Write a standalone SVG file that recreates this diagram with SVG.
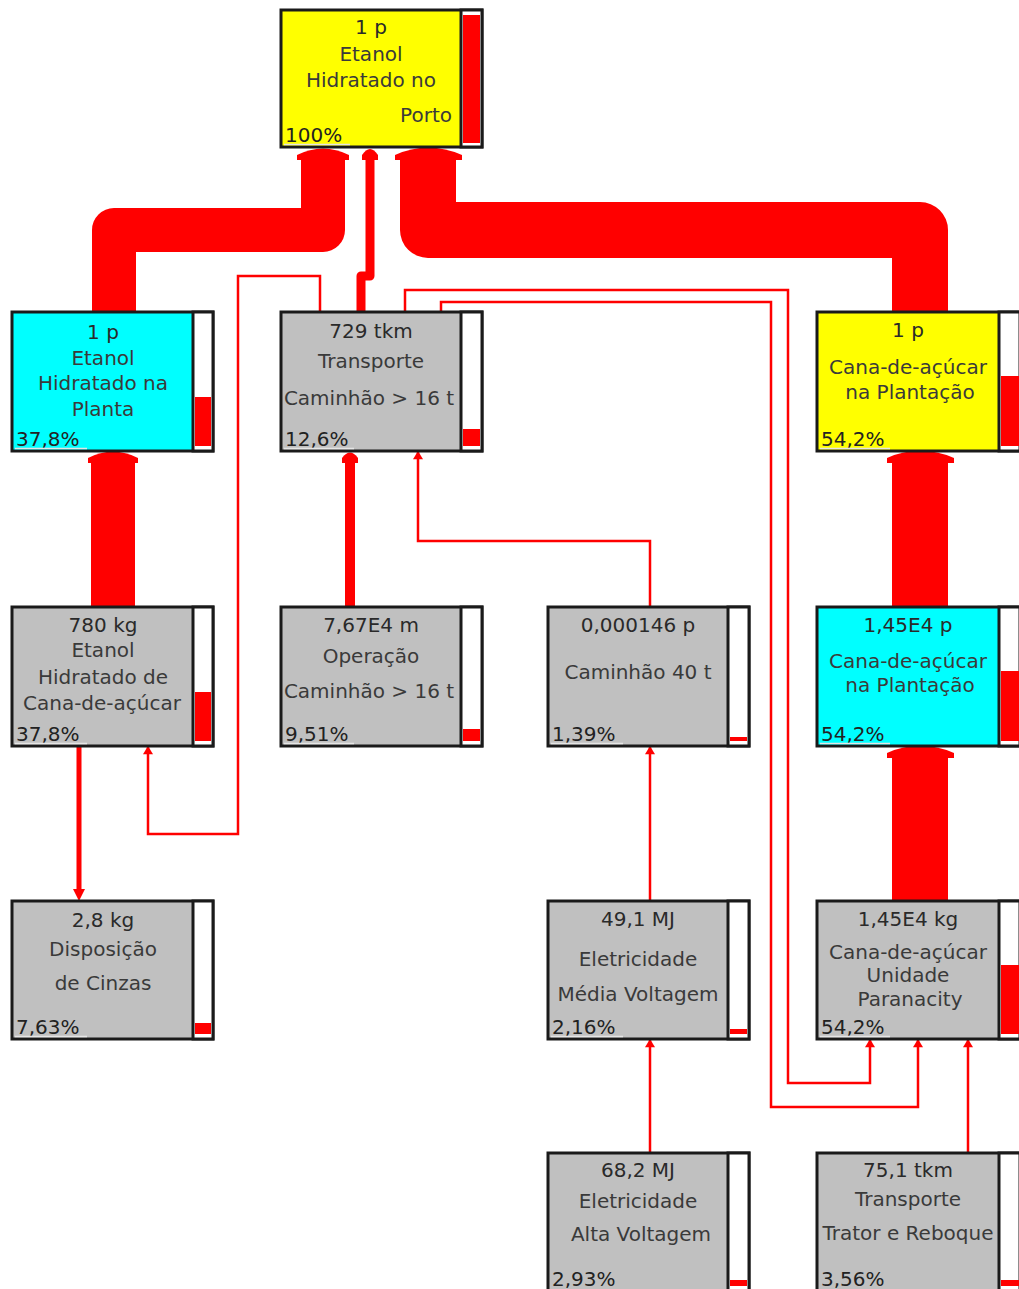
<svg xmlns="http://www.w3.org/2000/svg" width="1019" height="1289" viewBox="0 0 1019 1289">
<style>
text{font-family:"DejaVu Sans","Liberation Sans",sans-serif;font-size:20px;fill:#2a2a2a;text-anchor:middle}
.pct{text-anchor:start;fill:#222}
.nm{fill:#3a3a3a}
.frame{stroke:#1a1a1a;stroke-width:3}
.yel{fill:#ffff00}
.cya{fill:#00ffff}
.gry{fill:#c0c0c0}
.bar{fill:#ffffff;stroke:#1a1a1a;stroke-width:3}
.lvl{fill:#ff0000}
.ul{stroke:#e6e6e6;stroke-width:1.5;fill:none}
.band{fill:none;stroke:#ff0000;stroke-linejoin:round}
.thin{fill:none;stroke:#ff0000;stroke-width:2.5;marker-end:url(#ah)}
.head{fill:#ff0000}
</style>
<defs>
<marker id="ah" viewBox="0 0 10 12" refX="10" refY="6" markerWidth="12" markerHeight="10" markerUnits="userSpaceOnUse" orient="auto">
<path d="M0,0 L10,6 L0,12 z" fill="#ff0000"/>
</marker>
</defs>

<g id="connectors">
<!-- thick bands -->
<path class="band" d="M114,312 V230 H323 V157" stroke-width="44"/>
<path class="head" d="M297,160 V155 Q323,142 349,155 V160 Z"/>
<path class="band" d="M920,312 V230 H428 V157" stroke-width="56" />
<path class="head" d="M395,160 V155 Q428,140 462,155 V160 Z"/>
<path class="band" d="M361,312 V276 H370 V157" stroke-width="9" stroke-linejoin="miter"/>
<path class="head" d="M362,160 V155 Q370,143 378,155 V160 Z"/>
<path class="band" d="M113,607 V460" stroke-width="44"/>
<path class="head" d="M88,463 V458 Q113,445 138,458 V463 Z"/>
<path class="band" d="M350,607 V460" stroke-width="10"/>
<path class="head" d="M342,463 V458 Q350,447 358,458 V463 Z"/>
<path class="band" d="M920,607 V460" stroke-width="56"/>
<path class="head" d="M887,463 V458 Q920,443 954,458 V463 Z"/>
<path class="band" d="M920,901 V755" stroke-width="56"/>
<path class="head" d="M887,758 V753 Q920,738 954,753 V758 Z"/>
<path class="band" d="M79,746 V890" stroke-width="5"/>
<path class="head" d="M73,889 L85,889 L79,901 Z"/>
<!-- thin lines -->
<path class="thin" d="M650,607 V541 H418 V451"/>
<path class="thin" d="M320,312 V276 H238 V834 H148 V746"/>
<path class="thin" d="M405,312 V290 H788 V1083 H870 V1039"/>
<path class="thin" d="M441,312 V302 H771 V1107 H918 V1039"/>
<path class="thin" d="M650,901 V746"/>
<path class="thin" d="M650,1153 V1039"/>
<path class="thin" d="M968,1153 V1039"/>
</g>

<g id="n_porto">
<rect class="frame yel" x="281" y="10" width="201" height="137"/>
<rect class="bar" x="461" y="10" width="21" height="137"/>
<rect class="lvl" x="463" y="15" width="17" height="128"/>
<text x="371" y="34">1 p</text>
<text class="nm" x="371" y="61">Etanol</text>
<text class="nm" x="371" y="87">Hidratado no</text>
<text class="nm" x="452" y="122" style="text-anchor:end">Porto</text>
<text class="pct" x="285" y="142">100%</text>
<path class="ul" d="M284,144.5 H350"/>
</g>

<g id="n_planta">
<rect class="frame cya" x="12" y="312" width="201" height="139"/>
<rect class="bar" x="193" y="312" width="20" height="139"/>
<rect class="lvl" x="195" y="397" width="16" height="49"/>
<text x="103" y="339">1 p</text>
<text class="nm" x="103" y="365">Etanol</text>
<text class="nm" x="103" y="390">Hidratado na</text>
<text class="nm" x="103" y="416">Planta</text>
<text class="pct" x="16" y="446">37,8%</text>
<path class="ul" d="M15,448.5 H87"/>
</g>

<g id="n_transporte">
<rect class="frame gry" x="281" y="312" width="201" height="139"/>
<rect class="bar" x="461" y="312" width="21" height="139"/>
<rect class="lvl" x="463" y="429" width="17" height="17"/>
<text x="371" y="338">729 tkm</text>
<text class="nm" x="371" y="368">Transporte</text>
<text class="nm" x="369" y="405">Caminhão &gt; 16 t</text>
<text class="pct" x="285" y="446">12,6%</text>
<path class="ul" d="M284,448.5 H354"/>
</g>

<g id="n_cana_plantacao">
<rect class="frame yel" x="817" y="312" width="203" height="139"/>
<rect class="bar" x="999" y="312" width="21" height="139"/>
<rect class="lvl" x="1001" y="376" width="19" height="70"/>
<text x="908" y="337">1 p</text>
<text class="nm" x="908" y="374">Cana-de-açúcar</text>
<text class="nm" x="910" y="399">na Plantação</text>
<text class="pct" x="821" y="446">54,2%</text>
<path class="ul" d="M820,448.5 H890"/>
</g>

<g id="n_780kg">
<rect class="frame gry" x="12" y="607" width="201" height="139"/>
<rect class="bar" x="193" y="607" width="20" height="139"/>
<rect class="lvl" x="195" y="692" width="16" height="49"/>
<text x="103" y="632">780 kg</text>
<text class="nm" x="103" y="657">Etanol</text>
<text class="nm" x="103" y="684">Hidratado de</text>
<text class="nm" x="102" y="710">Cana-de-açúcar</text>
<text class="pct" x="16" y="741">37,8%</text>
<path class="ul" d="M15,743.5 H87"/>
</g>

<g id="n_operacao">
<rect class="frame gry" x="281" y="607" width="201" height="139"/>
<rect class="bar" x="461" y="607" width="21" height="139"/>
<rect class="lvl" x="463" y="729" width="17" height="12"/>
<text x="371" y="632">7,67E4 m</text>
<text class="nm" x="371" y="663">Operação</text>
<text class="nm" x="369" y="698">Caminhão &gt; 16 t</text>
<text class="pct" x="285" y="741">9,51%</text>
<path class="ul" d="M284,743.5 H354"/>
</g>

<g id="n_caminhao40">
<rect class="frame gry" x="548" y="607" width="201" height="139"/>
<rect class="bar" x="728" y="607" width="21" height="139"/>
<rect class="lvl" x="730" y="737" width="17" height="4"/>
<text x="638" y="632">0,000146 p</text>
<text class="nm" x="638" y="679">Caminhão 40 t</text>
<text class="pct" x="552" y="741">1,39%</text>
<path class="ul" d="M551,743.5 H623"/>
</g>

<g id="n_cana_cyan">
<rect class="frame cya" x="817" y="607" width="203" height="139"/>
<rect class="bar" x="999" y="607" width="21" height="139"/>
<rect class="lvl" x="1001" y="671" width="19" height="70"/>
<text x="908" y="632">1,45E4 p</text>
<text class="nm" x="908" y="668">Cana-de-açúcar</text>
<text class="nm" x="910" y="692">na Plantação</text>
<text class="pct" x="821" y="741">54,2%</text>
<path class="ul" d="M820,743.5 H890"/>
</g>

<g id="n_cinzas">
<rect class="frame gry" x="12" y="901" width="201" height="138"/>
<rect class="bar" x="193" y="901" width="20" height="138"/>
<rect class="lvl" x="195" y="1023" width="16" height="11"/>
<text x="103" y="927">2,8 kg</text>
<text class="nm" x="103" y="956">Disposição</text>
<text class="nm" x="103" y="990">de Cinzas</text>
<text class="pct" x="16" y="1034">7,63%</text>
<path class="ul" d="M15,1036.5 H87"/>
</g>

<g id="n_media">
<rect class="frame gry" x="548" y="901" width="201" height="138"/>
<rect class="bar" x="728" y="901" width="21" height="138"/>
<rect class="lvl" x="730" y="1029" width="17" height="5"/>
<text x="638" y="926">49,1 MJ</text>
<text class="nm" x="638" y="966">Eletricidade</text>
<text class="nm" x="638" y="1001">Média Voltagem</text>
<text class="pct" x="552" y="1034">2,16%</text>
<path class="ul" d="M551,1036.5 H623"/>
</g>

<g id="n_cana_kg">
<rect class="frame gry" x="817" y="901" width="203" height="138"/>
<rect class="bar" x="999" y="901" width="21" height="138"/>
<rect class="lvl" x="1001" y="965" width="19" height="69"/>
<text x="908" y="926">1,45E4 kg</text>
<text class="nm" x="908" y="959">Cana-de-açúcar</text>
<text class="nm" x="908" y="982">Unidade</text>
<text class="nm" x="910" y="1006">Paranacity</text>
<text class="pct" x="821" y="1034">54,2%</text>
<path class="ul" d="M820,1036.5 H890"/>
</g>

<g id="n_alta">
<rect class="frame gry" x="548" y="1153" width="201" height="139"/>
<rect class="bar" x="728" y="1153" width="21" height="139"/>
<rect class="lvl" x="730" y="1280" width="17" height="6"/>
<text x="638" y="1177">68,2 MJ</text>
<text class="nm" x="638" y="1208">Eletricidade</text>
<text class="nm" x="641" y="1241">Alta Voltagem</text>
<text class="pct" x="552" y="1286">2,93%</text>
</g>

<g id="n_trator">
<rect class="frame gry" x="817" y="1153" width="203" height="139"/>
<rect class="bar" x="999" y="1153" width="21" height="139"/>
<rect class="lvl" x="1001" y="1280" width="19" height="6"/>
<text x="908" y="1177">75,1 tkm</text>
<text class="nm" x="908" y="1206">Transporte</text>
<text class="nm" x="908" y="1240">Trator e Reboque</text>
<text class="pct" x="821" y="1286">3,56%</text>
</g>
</svg>
